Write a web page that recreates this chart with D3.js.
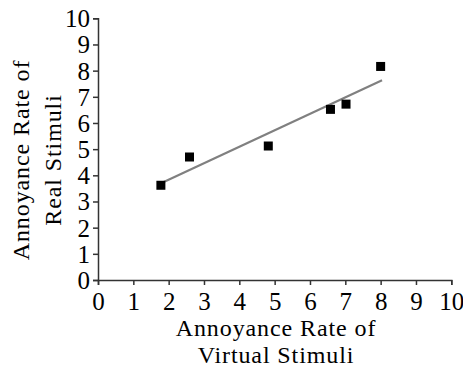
<!DOCTYPE html>
<html><head><meta charset="utf-8">
<script src="https://cdn.jsdelivr.net/npm/d3@7"></script>
<style>body{margin:0;background:#fff}</style>
</head><body>
<svg id="c" width="463" height="368"></svg>
<script>
const pointsX = [1.78, 2.59, 4.82, 6.58, 7.02, 8.0];
const pointsY = [3.62, 4.70, 5.12, 6.52, 6.72, 8.16];
const fitX = [1.8, 8.04];
const fitY = [3.71, 7.63];
const xTicks = [0,1,2,3,4,5,6,7,8,9,10];
const yTicks = [0,1,2,3,4,5,6,7,8,9,10];
const xTitle = ["Annoyance Rate of", "Virtual Stimuli"];
const yTitle = ["Annoyance Rate of", "Real Stimuli"];

const svg = d3.select("#c");
const x = d3.scaleLinear().domain([0,10]).range([98, 451.3]);
const y = d3.scaleLinear().domain([0,10]).range([280, 18.3]);
const font = "Liberation Serif, Times New Roman, serif";
const axisColor = "#333";

// minor ticks
const minor = d3.range(0.5, 10, 1);
const gx = svg.append("g").attr("transform", `translate(0,${y(0)})`);
gx.call(d3.axisBottom(x).tickValues(minor).tickSize(3).tickFormat(""));
gx.call(d3.axisBottom(x).tickValues(xTicks).tickSize(5).tickPadding(6).tickFormat(d3.format("d")));
gx.selectAll("path,line").attr("stroke", axisColor).attr("stroke-width", 1.5);
gx.selectAll("text").attr("font-family", font).attr("font-size", 25).attr("fill", "#000")
  .attr("dy", null).attr("y", 30);

const gy = svg.append("g").attr("transform", `translate(${x(0)},0)`);
gy.call(d3.axisLeft(y).tickValues(minor).tickSize(3).tickFormat(""));
gy.call(d3.axisLeft(y).tickValues(yTicks).tickSize(5).tickPadding(3).tickFormat(d3.format("d")));
gy.selectAll("path,line").attr("stroke", axisColor).attr("stroke-width", 1.5);
gy.selectAll("text").attr("font-family", font).attr("font-size", 25).attr("fill", "#000").attr("dy", "0.34em");
svg.selectAll(".domain").attr("stroke", axisColor).attr("stroke-width", 1.5);

// fit line
svg.append("path")
  .datum(fitX.map((v,i)=>[v, fitY[i]]))
  .attr("d", d3.line().x(d=>x(d[0])).y(d=>y(d[1])))
  .attr("stroke", "#808080").attr("stroke-width", 2.2).attr("fill", "none");

// points
const s = 9;
svg.append("g").selectAll("rect").data(pointsX.map((v,i)=>[v, pointsY[i]])).join("rect")
  .attr("x", d=>x(d[0]) - s/2).attr("y", d=>y(d[1]) - s/2)
  .attr("width", s).attr("height", s).attr("fill", "#000");

// x title
svg.append("g").selectAll("text").data(xTitle).join("text")
  .attr("x", 276).attr("y", (d,i)=>336 + i*27)
  .attr("text-anchor", "middle").attr("font-family", font).attr("font-size", 24)
  .attr("letter-spacing", "0.9px").attr("fill", "#000").text(d=>d);

// y title
svg.append("g").attr("transform", "translate(0,160) rotate(-90)")
  .selectAll("text").data(yTitle).join("text")
  .attr("x", 0).attr("y", (d,i)=>29 + i*32)
  .attr("text-anchor", "middle").attr("font-family", font).attr("font-size", 24)
  .attr("letter-spacing", "0.9px").attr("fill", "#000").text(d=>d);
</script>
</body></html>
